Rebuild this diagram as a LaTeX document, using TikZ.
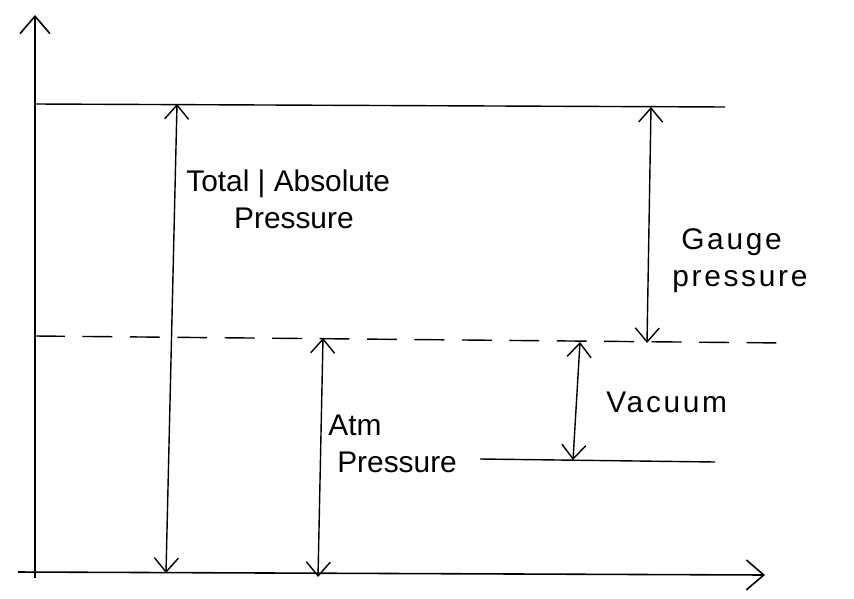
\documentclass[tikz,border=0pt]{standalone}
\usepackage{fontspec}
\setmainfont{Liberation Sans}
\usetikzlibrary{positioning, arrows.meta}

\begin{document}
\begin{tikzpicture}[
        x=0.02cm, y=-0.02cm,
        axis/.style={-{Straight Barb[length=3.5mm, width=6mm]}, line width=0.9pt},
        level/.style={line width=0.8pt},
        span/.style={{Straight Barb[length=2.8mm, width=4.8mm]}-{Straight Barb[length=2.8mm, width=4.8mm]}, line width=0.8pt},
        lbl/.style={align=left, font=\fontsize{17}{21}\selectfont, inner sep=0pt},
        wide/.style={lbl, font=\fontsize{17}{21}\selectfont\addfontfeatures{LetterSpace=9}}
    ]
    \useasboundingbox (0,0) rectangle (854,598);

    % axes
    \coordinate (origin) at (35,572);
    \coordinate (ytop) at (35,15);
    \coordinate (xleft) at (18,572);
    \coordinate (xright) at (765,575);
    \draw[axis] (35,578) -- (ytop);
    \draw[axis] (xleft) -- (xright);

    % pressure levels
    \coordinate (absL) at (35,104);
    \coordinate (absR) at (725,107);
    \coordinate (atmL) at (35,336);
    \coordinate (atmR) at (785,343);
    \coordinate (vacL) at (480,459);
    \coordinate (vacR) at (715,462);
    \draw[level] (absL) -- (absR);
    \draw[level, dash pattern=on 17pt off 10pt] (atmL) -- (atmR);
    \draw[level] (vacL) -- (vacR);

    % spans
    \coordinate (totT) at (177,104);
    \coordinate (totB) at (166,573);
    \coordinate (atmT) at (323,338);
    \coordinate (atmB) at (318,577);
    \coordinate (gauT) at (651,107);
    \coordinate (gauB) at (647,343);
    \coordinate (vacT) at (580,342);
    \coordinate (vacB) at (573,460);
    \draw[span] (totT) -- (totB);
    \draw[span] (atmT) -- (atmB);
    \draw[span] (gauT) -- (gauB);
    \draw[span] (vacT) -- (vacB);

    % labels
    \node[lbl, anchor=north west] (total) at (186,170) {Total | Absolute\\\hspace{1.6em}Pressure};
    \node[wide, anchor=north west] (gauge) at (672,228) {\hspace{0.3em}Gauge\\pressure};
    \node[wide, anchor=west] (vacuum) at (606,402) {Vacuum};
    \node[lbl, anchor=north west] (atm) at (328,415) {Atm\\\hspace{0.3em}Pressure};
\end{tikzpicture}
\end{document}
